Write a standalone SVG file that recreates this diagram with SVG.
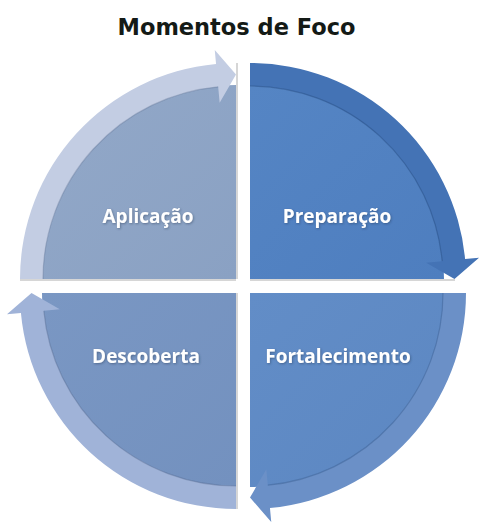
<svg xmlns="http://www.w3.org/2000/svg" width="486" height="532" viewBox="0 0 486 532">
<defs>
<style>
.title{font-family:"DejaVu Sans",Verdana,sans-serif;font-weight:bold;font-size:22.5px;fill:#141a16}
.lbl{font-family:"Open Sans","Noto Sans",sans-serif;font-weight:bold;font-size:19px;fill:#ffffff;text-anchor:middle;filter:url(#ts)}
.edge{fill:none;stroke-width:1.2;stroke-opacity:0.35}
.shadow{fill:#d6d6d6}
</style>
<filter id="ts" x="-10%" y="-30%" width="120%" height="160%">
<feDropShadow dx="0.8" dy="1" stdDeviation="0.8" flood-color="#203050" flood-opacity="0.45"/>
</filter>
<linearGradient id="gTL" x1="0" y1="0" x2="1" y2="1"><stop offset="0" stop-color="#92a8c8"/><stop offset="1" stop-color="#8aa1c3"/></linearGradient>
<linearGradient id="gTR" x1="0" y1="0" x2="1" y2="1"><stop offset="0" stop-color="#5585c4"/><stop offset="1" stop-color="#4e7ebf"/></linearGradient>
<linearGradient id="gBR" x1="0" y1="0" x2="1" y2="1"><stop offset="0" stop-color="#628dc7"/><stop offset="1" stop-color="#5c87c2"/></linearGradient>
<linearGradient id="gBL" x1="0" y1="0" x2="1" y2="1"><stop offset="0" stop-color="#7a97c3"/><stop offset="1" stop-color="#7391bf"/></linearGradient>
</defs>
<rect width="486" height="532" fill="#ffffff"/>
<text class="title" x="236.5" y="35" text-anchor="middle">Momentos de Foco</text>
<g id="shadows">
<rect class="shadow" x="20" y="279" width="216" height="2"/>
<rect class="shadow" x="250" y="279" width="205" height="2"/>
<rect class="shadow" x="236" y="63" width="2" height="216"/>
<rect class="shadow" x="236" y="293" width="2" height="216"/>
</g>
<g id="aplicacao">
<path d="M236,279 L42,279 A194,194 0 0 1 236,85 Z" fill="url(#gTL)"/>
<path d="M20,279 A216,216 0 0 1 216.05,63.92 L214.75,49.98 L236,74.5 L219.65,102.76 L218.17,86.83 A193,193 0 0 0 43,279 Z" fill="#c3cde3"/>
<path class="edge" d="M218.17,86.83 A193,193 0 0 0 43,279" stroke="#5a6e90"/>
<text class="lbl" x="148" y="223">Aplicação</text>
</g>
<g id="preparacao">
<path d="M250,279 L250,85 A194,194 0 0 1 444,279 Z" fill="url(#gTR)"/>
<path d="M250,63 A216,216 0 0 1 465.08,259.05 L479.02,257.75 L454.5,279 L426.24,262.65 L442.17,261.17 A193,193 0 0 0 250,86 Z" fill="#4473b5"/>
<path class="edge" d="M442.17,261.17 A193,193 0 0 0 250,86" stroke="#1e3f70"/>
<text class="lbl" x="337" y="223">Preparação</text>
</g>
<g id="fortalecimento">
<path d="M250,293 L444,293 A194,194 0 0 1 250,487 Z" fill="url(#gBR)"/>
<path d="M466,293 A216,216 0 0 1 269.95,508.08 L271.25,522.02 L250,497.5 L266.35,469.24 L267.83,485.17 A193,193 0 0 0 443,293 Z" fill="#6b90c7"/>
<path class="edge" d="M267.83,485.17 A193,193 0 0 0 443,293" stroke="#2e4f80"/>
<text class="lbl" x="338" y="363">Fortalecimento</text>
</g>
<g id="descoberta">
<path d="M236,293 L236,487 A194,194 0 0 1 42,293 Z" fill="url(#gBL)"/>
<path d="M236,509 A216,216 0 0 1 20.92,312.95 L6.98,314.25 L31.5,293 L59.76,309.35 L43.83,310.83 A193,193 0 0 0 236,486 Z" fill="#a0b3d8"/>
<path class="edge" d="M43.83,310.83 A193,193 0 0 0 236,486" stroke="#4a5e85"/>
<text class="lbl" x="146" y="363">Descoberta</text>
</g>
<g id="connectors"></g>
</svg>
